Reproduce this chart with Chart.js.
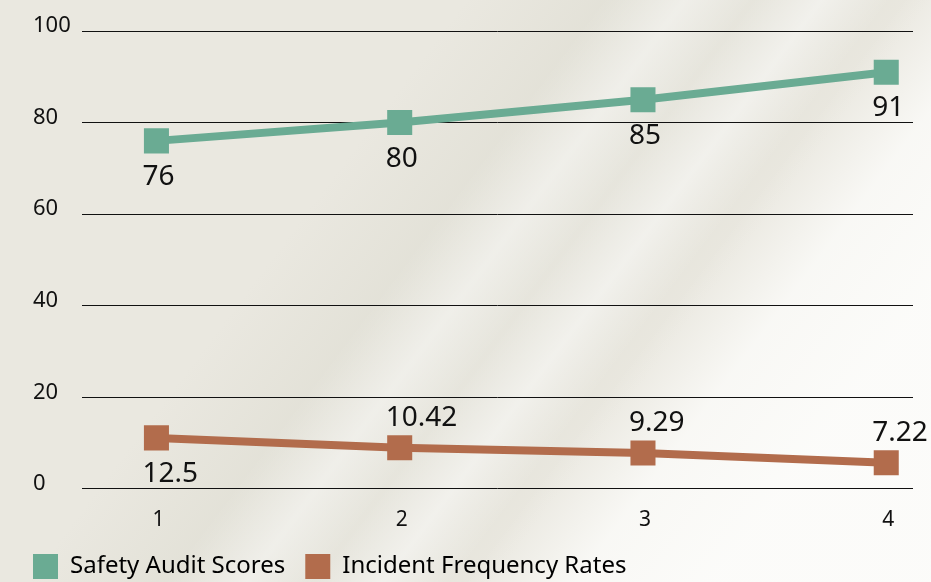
<!DOCTYPE html>
<html>
<head>
<meta charset="utf-8">
<script src="https://cdn.jsdelivr.net/npm/chart.js@4.4.1/dist/chart.umd.min.js"></script>
<style>
  html, body { margin: 0; padding: 0; }
  body {
    width: 931px; height: 582px; overflow: hidden;
    background:
      linear-gradient(127deg, rgba(252,252,250,0) 0%, rgba(252,252,250,0) 66%, rgba(252,252,250,0.8) 74%, rgba(252,252,250,0.97) 84%),
      linear-gradient(127deg, rgba(255,255,255,0) 44%, rgba(255,255,255,0.45) 50%, rgba(255,255,255,0.1) 55%, rgba(255,255,255,0.5) 60%, rgba(255,255,255,0) 65%),
      linear-gradient(127deg, rgba(0,0,0,0) 34%, rgba(205,205,190,0.25) 45%, rgba(205,205,190,0.2) 60%, rgba(0,0,0,0) 68%),
      #eae8e0;
  }
  #wrap { position: absolute; left: 0; top: 0; width: 931px; height: 582px; }
</style>
</head>
<body>
<div id="wrap"><canvas id="c" width="931" height="582"></canvas></div>
<script>
// ---- data ----
const categories = [1, 2, 3, 4];
const safetyAuditScores = [76, 80, 85, 91];
const incidentFrequencyRates = [12.5, 10.42, 9.29, 7.22];
const yTicks = [0, 20, 40, 60, 80, 100];
const seriesNames = ["Safety Audit Scores", "Incident Frequency Rates"];
const safetyLabelSide = ["below", "below", "below", "below"];
const incidentLabelSide = ["below", "above", "above", "above"];

const GREEN = "#6aab93";
const BROWN = "#b26c4c";
const FONT = '"Noto Sans", "Open Sans", sans-serif';

const valueLabels = {
  id: "valueLabels",
  afterDatasetsDraw(chart) {
    const ctx = chart.ctx;
    chart.data.datasets.forEach((ds, i) => {
      const meta = chart.getDatasetMeta(i);
      meta.data.forEach((pt, j) => {
        const above = ds.labelSide[j] === "above";
        ctx.save();
        ctx.font = "28px " + FONT;
        ctx.fillStyle = "#111";
        ctx.textAlign = "left";
        ctx.textBaseline = "middle";
        ctx.fillText(String(ds.rawValues[j]), pt.x - 14, pt.y + (above ? -30 : 36));
        ctx.restore();
      });
    });
  }
};

const legendShift = {
  id: "legendShift",
  beforeDraw(chart) {
    const lg = chart.legend;
    if (lg) {
      const p = lg.options.labels.padding;
      const w = lg.right - lg.left;
      const h = lg.bottom - lg.top;
      lg.left = 33 - p;
      lg.right = lg.left + w;
      lg.top = 554 - p;
      lg.bottom = lg.top + h;
    }
  }
};

new Chart(document.getElementById("c"), {
  type: "line",
  data: {
    datasets: [
      {
        label: seriesNames[0],
        data: categories.map((c, i) => ({ x: c, y: safetyAuditScores[i] })),
        rawValues: safetyAuditScores,
        labelSide: safetyLabelSide,
        yAxisID: "y",
        borderColor: GREEN,
        backgroundColor: GREEN,
        borderWidth: 8,
        pointStyle: "rect",
        pointRadius: 17.7,
        pointHoverRadius: 17.7,
        pointBorderWidth: 0,
        pointBackgroundColor: GREEN,
        tension: 0
      },
      {
        label: seriesNames[1],
        data: categories.map((c, i) => ({ x: c, y: incidentFrequencyRates[i] })),
        rawValues: incidentFrequencyRates,
        labelSide: incidentLabelSide,
        yAxisID: "y2",
        borderColor: BROWN,
        backgroundColor: BROWN,
        borderWidth: 8,
        pointStyle: "rect",
        pointRadius: 17.7,
        pointHoverRadius: 17.7,
        pointBorderWidth: 0,
        pointBackgroundColor: BROWN,
        tension: 0
      }
    ]
  },
  options: {
    responsive: false,
    animation: false,
    devicePixelRatio: 1,
    layout: { padding: { left: 33, right: 18, top: 31, bottom: -25 } },
    plugins: {
      tooltip: { enabled: false },
      legend: {
        position: "bottom",
        align: "start",
        labels: {
          boxWidth: 25,
          boxHeight: 25,
          padding: 20,
          color: "#111",
          font: { family: FONT, size: 24 },
          generateLabels(chart) {
            return chart.data.datasets.map((ds, i) => ({
              text: ds.label,
              fillStyle: ds.backgroundColor,
              strokeStyle: ds.backgroundColor,
              lineWidth: 0,
              hidden: false,
              datasetIndex: i
            }));
          }
        }
      }
    },
    scales: {
      x: {
        type: "linear",
        min: 0.694,
        max: 4.11,
        afterBuildTicks(scale) {
          scale.ticks = categories.map(v => ({ value: v }));
        },
        grid: { display: false, drawTicks: false },
        border: { display: false },
        ticks: {
          color: "#111",
          font: { family: FONT, size: 21 },
          padding: 19,
          labelOffset: 2,
          callback: (v) => String(v)
        }
      },
      y: {
        min: 0,
        max: 100,
        afterBuildTicks(scale) {
          scale.ticks = yTicks.map(v => ({ value: v }));
        },
        afterFit(scale) { scale.width = 49; },
        grid: { color: "#111", lineWidth: 1, drawTicks: false },
        border: { display: false },
        ticks: {
          color: "#111",
          font: { family: FONT, size: 22 },
          crossAlign: "far",
          labelOffset: -5,
          padding: 8
        }
      },
      y2: {
        display: false,
        min: 1.7,
        max: 98.8
      }
    }
  },
  plugins: [valueLabels, legendShift]
});
</script>
</body>
</html>
